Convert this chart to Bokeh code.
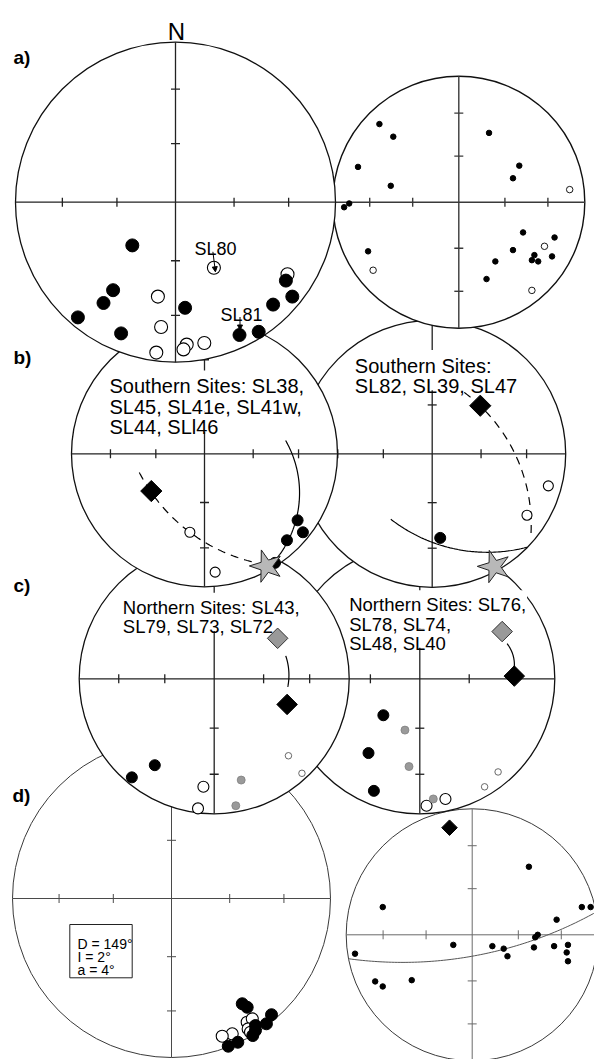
import math
import numpy as np
from bokeh.plotting import figure
from bokeh.models import Range1d, Arrow, NormalHead
from bokeh.core.properties import value
from bokeh.embed import file_html
from bokeh.resources import INLINE

W, H = 594, 1059
FONT = "Liberation Sans"

# Inclinations marked by ticks on the net axes (equal-area projection)
TICK_INCL = [30, 60]

# ---------------- directions, in net units (east, north), lower hemisphere ----------------
# a) all sites, left net
A_LEFT_DOWN_E = [-0.27, -0.39, -0.45, -0.61, -0.34, 0.06, 0.40, 0.52, 0.61, 0.69, 0.73]
A_LEFT_DOWN_N = [-0.27, -0.55, -0.63, -0.72, -0.82, -0.66, -0.83, -0.81, -0.64, -0.49, -0.59]
A_LEFT_UP_E = [0.24, 0.70, -0.11, -0.09, 0.07, 0.18, -0.12, 0.05]
A_LEFT_UP_N = [-0.41, -0.45, -0.59, -0.78, -0.89, -0.88, -0.94, -0.92]
SL80_INDEX = 0   # in A_LEFT_UP
SL81_INDEX = 6   # in A_LEFT_DOWN

# a) right net
A_RIGHT_DOWN_E = [-0.63, -0.52, -0.80, -0.54, -0.87, -0.91, 0.24, 0.48, 0.43, -0.72,
                  0.51, 0.76, 0.43, 0.60, 0.58, 0.63, 0.74, 0.29, 0.22]
A_RIGHT_DOWN_N = [0.62, 0.52, 0.28, 0.13, -0.01, -0.04, 0.55, 0.29, 0.19, -0.39,
                  -0.24, -0.28, -0.38, -0.42, -0.46, -0.47, -0.43, -0.47, -0.61]
A_RIGHT_UP_E = [0.88, 0.68, -0.68, 0.58]
A_RIGHT_UP_N = [0.10, -0.35, -0.54, -0.70]

# expected direction (star)
EXPECTED_E = [0.465]
EXPECTED_N = [-0.845]

# b) southern sites, left net
B_LEFT_MEAN_E = [-0.40]
B_LEFT_MEAN_N = [-0.28]
B_LEFT_DOWN_E = [0.70, 0.74, 0.62, 0.53]
B_LEFT_DOWN_N = [-0.50, -0.59, -0.65, -0.82]
B_LEFT_UP_E = [-0.11, 0.08]
B_LEFT_UP_N = [-0.59, -0.89]
B_LEFT_DASH = [(-0.49, -0.14), (-0.11, -0.59), (0.37, -0.815)]
B_LEFT_SOLID = [(0.61, 0.10), (0.707, -0.404), (0.511, -0.825)]

# b) southern sites, right net
B_RIGHT_MEAN_E = [0.36]
B_RIGHT_MEAN_N = [0.36]
B_RIGHT_DOWN_E = [0.06]
B_RIGHT_DOWN_N = [-0.63]
B_RIGHT_UP_E = [0.87, 0.71]
B_RIGHT_UP_N = [-0.24, -0.46]
B_RIGHT_DASH = [(0.24, 0.46), (0.61, 0.02), (0.74, -0.60)]
B_RIGHT_SOLID = [(-0.31, -0.49), (0.21, -0.72), (0.71, -0.70)]

# c) northern sites, left net
C_LEFT_MEAN_IN_E = [0.47]
C_LEFT_MEAN_IN_N = [0.30]
C_LEFT_MEAN_E = [0.54]
C_LEFT_MEAN_N = [-0.19]
C_LEFT_PATH = [(0.53, 0.17), (0.553, 0.05), (0.545, -0.06)]
C_LEFT_DOWN_E = [-0.44, -0.61]
C_LEFT_DOWN_N = [-0.64, -0.73]
C_LEFT_UP_E = [-0.08, -0.12]
C_LEFT_UP_N = [-0.80, -0.96]
C_LEFT_MID_E = [0.20, 0.16]
C_LEFT_MID_N = [-0.75, -0.94]
C_LEFT_UPS_E = [0.55, 0.65]
C_LEFT_UPS_N = [-0.57, -0.70]

# c) northern sites, right net
C_RIGHT_MEAN_IN_E = [0.61]
C_RIGHT_MEAN_IN_N = [0.35]
C_RIGHT_MEAN_E = [0.70]
C_RIGHT_MEAN_N = [0.02]
C_RIGHT_PATH = [(0.647, 0.26), (0.683, 0.197), (0.70, 0.086)]
C_RIGHT_DOWN_E = [-0.27, -0.38, -0.34]
C_RIGHT_DOWN_N = [-0.27, -0.55, -0.83]
C_RIGHT_MID_E = [-0.11, -0.08, 0.10]
C_RIGHT_MID_N = [-0.38, -0.65, -0.89]
C_RIGHT_UP_E = [0.19, 0.05]
C_RIGHT_UP_N = [-0.89, -0.94]
C_RIGHT_UPS_E = [0.58, 0.48]
C_RIGHT_UPS_N = [-0.69, -0.80]

# d) site means, left net
D_LEFT_UP_E = [0.476, 0.508, 0.382, 0.319, 0.482, 0.497]
D_LEFT_UP_N = [-0.778, -0.757, -0.851, -0.866, -0.820, -0.841]
D_LEFT_DOWN_E = [0.445, 0.476, 0.629, 0.597, 0.528, 0.511, 0.417, 0.357, 0.528]
D_LEFT_DOWN_N = [-0.662, -0.684, -0.731, -0.788, -0.799, -0.862, -0.904, -0.929, -0.830]
D_STATS = ["D = 149°", "I = 2°", "a = 4°"]

# d) poles, right net
D_RIGHT_MEAN_E = [-0.18]
D_RIGHT_MEAN_N = [0.85]
D_RIGHT_DOWN_E = [0.45, -0.71, 0.87, 0.94, 0.67, 0.52, 0.50, -0.15, 0.16, 0.25,
                  0.49, 0.65, 0.76, 0.28, 0.75, 0.76, -0.93, -0.77, -0.71, -0.48]
D_RIGHT_DOWN_N = [0.54, 0.22, 0.22, 0.22, 0.12, 0.00, -0.02, -0.08, -0.09, -0.11,
                  -0.10, -0.09, -0.08, -0.17, -0.14, -0.21, -0.15, -0.37, -0.41, -0.36]
D_RIGHT_GC = [(-0.982, -0.19), (0.0, -0.17), (0.983, 0.18)]

# ---------------- layout of the nets on the page: centre x, centre y, radius ----------------
NETS = {
    "a_left": (175.0, 201.7, 160.0),
    "a_right": (458.3, 201.7, 126.0),
    "b_left": (204.0, 453.3, 133.0),
    "b_right": (431.7, 453.3, 133.5),
    "c_left": (213.7, 678.3, 135.0),
    "c_right": (419.3, 678.3, 135.0),
    "d_left": (171.0, 898.0, 159.0),
    "d_right": (471.7, 934.3, 126.0),
}
TICK_LEN = 4.5

# Arial / Liberation Sans advance widths (per 1000 em) used to size text backings
CHAR_W = {"S": 667, "o": 556, "u": 556, "t": 278, "h": 556, "e": 556, "r": 333,
          "n": 556, " ": 278, "i": 222, "s": 500, ":": 278, "L": 556, ",": 278,
          "w": 722, "N": 722, "l": 222}

p = figure(width=W, height=H, x_range=Range1d(0, W), y_range=Range1d(H, 0),
           x_axis_type=None, y_axis_type=None, toolbar_location=None,
           output_backend="svg", min_border=0, outline_line_color=None)
p.background_fill_color = "white"
p.border_fill_color = "white"


def to_px(net, e, n):
    cx, cy, r = NETS[net]
    return cx + r * np.asarray(e, float), cy - r * np.asarray(n, float)


def arc3(pts, steps=90):
    (x0, y0), (x1, y1), (x2, y2) = pts
    d = 2 * (x0 * (y1 - y2) + x1 * (y2 - y0) + x2 * (y0 - y1))
    s0, s1, s2 = x0 ** 2 + y0 ** 2, x1 ** 2 + y1 ** 2, x2 ** 2 + y2 ** 2
    ux = (s0 * (y1 - y2) + s1 * (y2 - y0) + s2 * (y0 - y1)) / d
    uy = (s0 * (x2 - x1) + s1 * (x0 - x2) + s2 * (x1 - x0)) / d
    rad = math.hypot(x0 - ux, y0 - uy)
    a0 = math.atan2(y0 - uy, x0 - ux)
    a1 = math.atan2(y1 - uy, x1 - ux)
    a2 = math.atan2(y2 - uy, x2 - ux)
    tw = 2 * math.pi
    to2 = (a2 - a0) % tw
    to1 = (a1 - a0) % tw
    span = to2 if to1 <= to2 else to2 - tw
    t = a0 + np.linspace(0, span, steps)
    return ux + rad * np.cos(t), uy + rad * np.sin(t)


def draw_net(net, edge="#111111", axis="#222222", lw=1.3):
    cx, cy, r = NETS[net]
    p.circle(x=[cx], y=[cy], radius=r, fill_color="white", line_color=edge, line_width=lw)
    p.segment(x0=[cx - r, cx], y0=[cy, cy - r], x1=[cx + r, cx], y1=[cy, cy + r],
              line_color=axis, line_width=lw)
    x0, y0, x1, y1 = [], [], [], []
    for inc in TICK_INCL:
        t = r * math.sqrt(2) * math.sin(math.radians((90 - inc) / 2))
        for s in (-1, 1):
            x0 += [cx + s * t, cx - TICK_LEN]
            x1 += [cx + s * t, cx + TICK_LEN]
            y0 += [cy - TICK_LEN, cy + s * t]
            y1 += [cy + TICK_LEN, cy + s * t]
    p.segment(x0=x0, y0=y0, x1=x1, y1=y1, line_color=axis, line_width=lw)


def curve(net, pts, dash="solid", color="black", lw=1.2):
    xs, ys = arc3(pts)
    x, y = to_px(net, xs, ys)
    p.line(x=x, y=y, line_color=color, line_width=lw, line_dash=dash)


def dots(net, e, n, size, fill, line="black", lw=1.0, marker="circle", angle=0.0):
    x, y = to_px(net, e, n)
    p.scatter(x=x, y=y, marker=marker, size=size, fill_color=fill,
              line_color=line, line_width=lw, angle=angle)


def diamond(net, e, n, size, fill, line="black"):
    dots(net, e, n, size, fill, line, lw=1.0, marker="square", angle=math.pi / 4)


def star(net):
    dots(net, EXPECTED_E, EXPECTED_N, 34, "#b8b8b8", "#222222", lw=1.0,
         marker="star", angle=0.3)


def text_width(s, size):
    return sum(CHAR_W.get(c, 556) for c in s) / 1000.0 * size


def text_block(x, y0, lines, size=20.0, step=20.0):
    ys = [y0 + i * step for i in range(len(lines))]
    p.quad(left=[x - 1] * len(lines), right=[x + text_width(s, size) + 1 for s in lines],
           top=[y - 0.78 * size for y in ys], bottom=[y + 0.24 * size for y in ys],
           fill_color="white", line_color=None)
    p.text(x=[x] * len(lines), y=ys, text=lines, text_font=value(FONT),
           text_font_size=f"{size}px", text_baseline="alphabetic", text_align="left",
           text_color="black")


# ---------------- d) ----------------
draw_net("d_left", edge="#3a3a3a", axis="#4a4a4a", lw=1.0)
p.quad(left=[69.3], right=[131.7], top=[924.0], bottom=[977.3],
       fill_color="white", line_color="#222222", line_width=1.0)
p.text(x=[77.0] * 3, y=[943.3, 956.6, 969.9], text=D_STATS, text_font=value(FONT),
       text_font_size="14px", text_baseline="alphabetic", text_align="left",
       text_color="black")
dots("d_left", D_LEFT_UP_E, D_LEFT_UP_N, 12, "white", lw=1.1)
dots("d_left", D_LEFT_DOWN_E, D_LEFT_DOWN_N, 12, "black")

draw_net("d_right", edge="#3a3a3a", axis="#6a6a6a", lw=1.0)
curve("d_right", D_RIGHT_GC, color="#555555", lw=1.0)
dots("d_right", D_RIGHT_DOWN_E, D_RIGHT_DOWN_N, 5.5, "black")
diamond("d_right", D_RIGHT_MEAN_E, D_RIGHT_MEAN_N, 11, "black")

# ---------------- c) ----------------
draw_net("c_right")
text_block(348.7, 604.3, ["Northern Sites: SL76,", "SL78, SL74,", "SL48, SL40"],
           size=18.5, step=19.2)
curve("c_right", C_RIGHT_PATH)
diamond("c_right", C_RIGHT_MEAN_IN_E, C_RIGHT_MEAN_IN_N, 14.5, "#999999", "#333333")
diamond("c_right", C_RIGHT_MEAN_E, C_RIGHT_MEAN_N, 14.5, "black")
dots("c_right", C_RIGHT_UPS_E, C_RIGHT_UPS_N, 6.5, "white", "#444444", lw=0.8)
dots("c_right", C_RIGHT_UP_E, C_RIGHT_UP_N, 11, "white", lw=1.1)
dots("c_right", C_RIGHT_MID_E, C_RIGHT_MID_N, 8, "#9a9a9a", "#808080", lw=0.8)
dots("c_right", C_RIGHT_DOWN_E, C_RIGHT_DOWN_N, 11, "black")

draw_net("c_left")
text_block(122.3, 606.7, ["Northern Sites: SL43,", "SL79, SL73, SL72"],
           size=18.5, step=19.3)
curve("c_left", C_LEFT_PATH)
diamond("c_left", C_LEFT_MEAN_IN_E, C_LEFT_MEAN_IN_N, 14.5, "#999999", "#333333")
diamond("c_left", C_LEFT_MEAN_E, C_LEFT_MEAN_N, 14.5, "black")
dots("c_left", C_LEFT_UPS_E, C_LEFT_UPS_N, 6.5, "white", "#444444", lw=0.8)
dots("c_left", C_LEFT_UP_E, C_LEFT_UP_N, 11, "white", lw=1.1)
dots("c_left", C_LEFT_MID_E, C_LEFT_MID_N, 8, "#9a9a9a", "#808080", lw=0.8)
dots("c_left", C_LEFT_DOWN_E, C_LEFT_DOWN_N, 11, "black")

# ---------------- b) ----------------
draw_net("b_right")
text_block(354.3, 365.0, ["Southern Sites:", "SL82, SL39, SL47"])
curve("b_right", B_RIGHT_DASH, dash="8 6")
curve("b_right", B_RIGHT_SOLID)
diamond("b_right", B_RIGHT_MEAN_E, B_RIGHT_MEAN_N, 15, "black")
dots("b_right", B_RIGHT_UP_E, B_RIGHT_UP_N, 10, "white", lw=1.1)
dots("b_right", B_RIGHT_DOWN_E, B_RIGHT_DOWN_N, 11, "black")
star("b_right")

draw_net("b_left")
text_block(109.0, 385.7, ["Southern Sites: SL38,", "SL45, SL41e, SL41w,", "SL44, SLl46"],
           step=20.5)
curve("b_left", B_LEFT_DASH, dash="8 6")
curve("b_left", B_LEFT_SOLID)
diamond("b_left", B_LEFT_MEAN_E, B_LEFT_MEAN_N, 15, "black")
dots("b_left", B_LEFT_UP_E, B_LEFT_UP_N, 10, "white", lw=1.1)
dots("b_left", B_LEFT_DOWN_E, B_LEFT_DOWN_N, 11, "black")
star("b_left")

# ---------------- a) ----------------
draw_net("a_right", axis="#3a3a3a", lw=1.4)
dots("a_right", A_RIGHT_UP_E, A_RIGHT_UP_N, 6.5, "white", lw=0.9)
dots("a_right", A_RIGHT_DOWN_E, A_RIGHT_DOWN_N, 5.5, "black")

draw_net("a_left")
dots("a_left", A_LEFT_UP_E, A_LEFT_UP_N, 13, "white", lw=1.1)
dots("a_left", A_LEFT_DOWN_E, A_LEFT_DOWN_N, 13, "black")

# site labels with pointers
sx80, sy80 = to_px("a_left", A_LEFT_UP_E[SL80_INDEX], A_LEFT_UP_N[SL80_INDEX])
sx81, sy81 = to_px("a_left", A_LEFT_DOWN_E[SL81_INDEX], A_LEFT_DOWN_N[SL81_INDEX])
p.text(x=[sx80 - 19.5, sx81 - 19.0], y=[sy80 - 18.5, sy81 - 20.5], text=["SL80", "SL81"],
       text_font=value(FONT), text_font_size="18px", text_baseline="alphabetic",
       text_align="left", text_color="black")
for (xs, ys, xe, ye) in [(sx80 - 1.0, sy80 - 16.0, sx80 + 1.5, sy80 + 4.0),
                         (sx81 + 0.5, sy81 - 18.0, sx81 + 0.5, sy81 - 5.0)]:
    p.add_layout(Arrow(end=NormalHead(size=5, fill_color="black", line_color="black",
                                      line_width=1),
                       x_start=xs, y_start=ys, x_end=xe, y_end=ye,
                       line_color="black", line_width=1))

# north marker and panel letters
p.text(x=[176.0], y=[30.5], text=["N"], text_font=value(FONT), text_font_size="24px",
       text_baseline="alphabetic", text_align="center", text_color="black")
p.text(x=[13, 13, 13, 12], y=[57, 357, 585, 795], text=["a)", "b)", "c)", "d)"],
       text_font=value(FONT), text_font_size="19px", text_font_style="bold",
       text_baseline="alphabetic", text_align="left", text_color="black")

open("out.html", "w").write(file_html(p, INLINE))
